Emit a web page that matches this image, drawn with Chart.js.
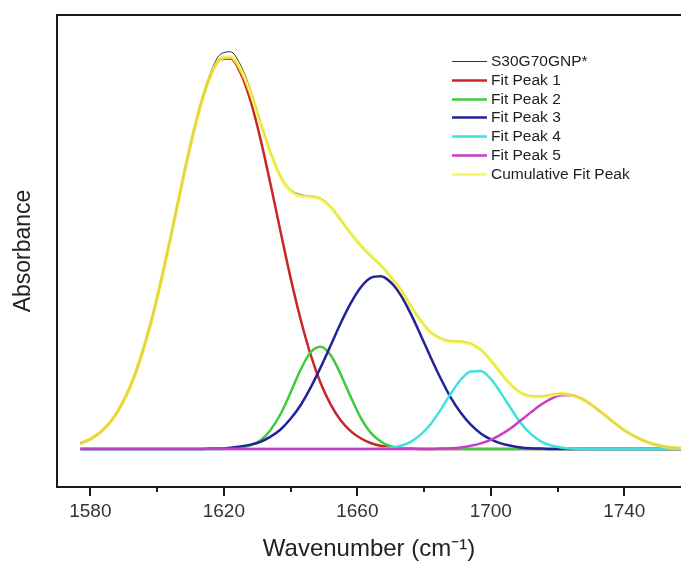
<!DOCTYPE html>
<html>
<head>
<meta charset="utf-8">
<title>Absorbance peak fit</title>
<script src="https://cdn.jsdelivr.net/npm/chart.js@4.4.1/dist/chart.umd.min.js"></script>
<style>
  html, body { margin: 0; padding: 0; background: #fff; }
  #wrap { width: 681px; height: 564px; }
</style>
</head>
<body>
<div id="wrap"><canvas id="fitChart" width="681" height="564"></canvas></div>
<script>
// wavenumber grid (cm-1) shared by every curve
const wavenumbers = [
  1577, 1580, 1583, 1586, 1589, 1592, 1595, 1598, 1601, 1604,
  1607, 1610, 1613, 1616, 1619, 1622, 1625, 1628, 1631, 1634,
  1637, 1640, 1643, 1646, 1649, 1652, 1655, 1658, 1661, 1664,
  1667, 1670, 1673, 1676, 1679, 1682, 1685, 1688, 1691, 1694,
  1697, 1700, 1703, 1706, 1709, 1712, 1715, 1718, 1721, 1724,
  1727, 1730, 1733, 1736, 1739, 1742, 1745, 1748, 1751, 1754,
  1757
];

// measured spectrum
const measured = [
  0.016, 0.026, 0.043, 0.069, 0.107, 0.160, 0.229, 0.315, 0.418, 0.532,
  0.651, 0.767, 0.868, 0.946, 0.992, 0.998, 0.965, 0.903, 0.822, 0.746,
  0.686, 0.652, 0.639, 0.636, 0.630, 0.609, 0.576, 0.541, 0.511, 0.484,
  0.461, 0.433, 0.401, 0.361, 0.323, 0.294, 0.279, 0.272, 0.271, 0.265,
  0.249, 0.222, 0.190, 0.161, 0.142, 0.134, 0.133, 0.137, 0.140, 0.137,
  0.128, 0.113, 0.093, 0.072, 0.053, 0.036, 0.023, 0.013, 0.007, 0.004,
  0.002
];

const peak1 = [
  0.014, 0.025, 0.042, 0.068, 0.106, 0.158, 0.227, 0.313, 0.416, 0.530,
  0.649, 0.764, 0.863, 0.938, 0.979, 0.981, 0.945, 0.875, 0.778, 0.665,
  0.546, 0.430, 0.326, 0.237, 0.166, 0.112, 0.072, 0.045, 0.027, 0.015,
  0.008, 0.004, 0.002, 0.001, 0, 0, 0, 0, 0, 0,
  0, 0, 0, 0, 0, 0, 0, 0, 0, 0,
  0, 0, 0, 0, 0, 0, 0, 0, 0, 0,
  0
];

const peak2 = [
  0, 0, 0, 0, 0, 0, 0, 0, 0, 0,
  0, 0, 0, 0, 0, 0.001, 0.003, 0.009, 0.022, 0.048,
  0.088, 0.142, 0.199, 0.243, 0.257, 0.236, 0.188, 0.131, 0.079, 0.041,
  0.019, 0.007, 0.003, 0.001, 0, 0, 0, 0, 0, 0,
  0, 0, 0, 0, 0, 0, 0, 0, 0, 0,
  0, 0, 0, 0, 0, 0, 0, 0, 0, 0,
  0
];

const peak3 = [
  0, 0, 0, 0, 0, 0, 0, 0, 0, 0,
  0, 0, 0, 0.001, 0.001, 0.003, 0.006, 0.011, 0.018, 0.031,
  0.049, 0.076, 0.110, 0.154, 0.205, 0.260, 0.316, 0.366, 0.406, 0.430,
  0.434, 0.419, 0.387, 0.340, 0.286, 0.230, 0.177, 0.129, 0.091, 0.061,
  0.039, 0.024, 0.014, 0.008, 0.004, 0.002, 0.001, 0, 0, 0,
  0, 0, 0, 0, 0, 0, 0, 0, 0, 0,
  0
];

const peak4 = [
  0, 0, 0, 0, 0, 0, 0, 0, 0, 0,
  0, 0, 0, 0, 0, 0, 0, 0, 0, 0,
  0, 0, 0, 0, 0, 0, 0, 0, 0, 0,
  0.001, 0.003, 0.008, 0.018, 0.036, 0.063, 0.099, 0.139, 0.174, 0.195,
  0.196, 0.176, 0.141, 0.102, 0.065, 0.038, 0.019, 0.009, 0.004, 0.001,
  0, 0, 0, 0, 0, 0, 0, 0, 0, 0,
  0
];

const peak5 = [
  0, 0, 0, 0, 0, 0, 0, 0, 0, 0,
  0, 0, 0, 0, 0, 0, 0, 0, 0, 0,
  0, 0, 0, 0, 0, 0, 0, 0, 0, 0,
  0, 0, 0, 0, 0, 0, 0.001, 0.002, 0.004, 0.008,
  0.014, 0.023, 0.036, 0.052, 0.072, 0.092, 0.111, 0.126, 0.135, 0.135,
  0.127, 0.112, 0.093, 0.073, 0.053, 0.037, 0.024, 0.014, 0.008, 0.004,
  0.002
];

// sum of the five fitted peaks
const cumulative = [
  0.014, 0.025, 0.042, 0.068, 0.106, 0.158, 0.227, 0.313, 0.416, 0.530,
  0.649, 0.764, 0.863, 0.939, 0.980, 0.985, 0.954, 0.895, 0.818, 0.744,
  0.683, 0.648, 0.635, 0.634, 0.628, 0.608, 0.576, 0.542, 0.512, 0.486,
  0.462, 0.433, 0.400, 0.360, 0.322, 0.293, 0.277, 0.270, 0.269, 0.264,
  0.249, 0.223, 0.191, 0.162, 0.141, 0.132, 0.131, 0.135, 0.139, 0.136,
  0.127, 0.112, 0.093, 0.073, 0.053, 0.037, 0.024, 0.014, 0.008, 0.004,
  0.002
];

const majorTicks = [1580, 1620, 1660, 1700, 1740];
const minorTicks = [1600, 1640, 1680, 1720];

const FONT = '"Liberation Sans", Arial, sans-serif';
const FRAME = '#1a1a1a';

Chart.defaults.font.family = FONT;

function toPoints(values) {
  return values.map((v, i) => ({ x: wavenumbers[i], y: v }));
}

function curve(label, values, color, width, order) {
  return {
    label: label,
    data: toPoints(values),
    borderColor: color,
    borderWidth: width,
    pointRadius: 0,
    fill: false,
    cubicInterpolationMode: 'monotone',
    order: order
  };
}

// top border of the frame plus long/short tick marks under the x axis
const frameTicks = {
  id: 'frameTicks',
  afterDraw(chart) {
    const { ctx, chartArea } = chart;
    const xs = chart.scales.x;
    ctx.save();
    ctx.strokeStyle = FRAME;
    ctx.lineWidth = 2;
    ctx.beginPath();
    ctx.moveTo(chartArea.left - 1, chartArea.top);
    ctx.lineTo(chartArea.right, chartArea.top);
    ctx.stroke();

    const tick = (v, len) => {
      const px = Math.round(xs.getPixelForValue(v));
      ctx.moveTo(px, chartArea.bottom);
      ctx.lineTo(px, chartArea.bottom + len);
    };
    ctx.beginPath();
    majorTicks.forEach(v => tick(v, 9));
    minorTicks.forEach(v => tick(v, 5));
    ctx.stroke();
    ctx.restore();
  }
};

// legend in the upper right corner of the plot
const cornerLegend = {
  id: 'cornerLegend',
  afterDraw(chart) {
    const ctx = chart.ctx;
    ctx.save();
    ctx.font = '15.5px ' + FONT;
    ctx.textBaseline = 'middle';
    ctx.fillStyle = '#1e1e1e';
    chart.data.datasets.forEach((ds, i) => {
      const y = Math.round(61 + i * 18.8) + 0.5;
      ctx.strokeStyle = i === 0 ? '#333340' : ds.borderColor;
      ctx.lineWidth = i === 0 ? 1 : 2.5;
      ctx.beginPath();
      ctx.moveTo(452, y);
      ctx.lineTo(487, y);
      ctx.stroke();
      ctx.fillText(ds.label, 491, y);
    });
    ctx.restore();
  }
};

const ctx = document.getElementById('fitChart').getContext('2d');
new Chart(ctx, {
  type: 'line',
  data: {
    datasets: [
      curve('S30G70GNP*', measured, '#2a2a3a', 1, 2),
      curve('Fit Peak 1', peak1, '#c8262b', 2.5, 7),
      curve('Fit Peak 2', peak2, '#3ccc3c', 2.5, 6),
      curve('Fit Peak 3', peak3, '#22229a', 2.5, 5),
      curve('Fit Peak 4', peak4, '#40e0e0', 2.5, 4),
      curve('Fit Peak 5', peak5, '#c83cc8', 2.5, 3),
      curve('Cumulative Fit Peak', cumulative, 'rgba(244, 244, 70, 0.85)', 3.5, 1)
    ]
  },
  options: {
    responsive: false,
    animation: false,
    devicePixelRatio: 1,
    layout: { padding: { top: 15, right: 0, bottom: 0, left: 0 } },
    plugins: {
      legend: { display: false },
      tooltip: { enabled: false }
    },
    scales: {
      x: {
        type: 'linear',
        min: 1570,
        max: 1757,
        afterBuildTicks: scale => {
          scale.ticks = majorTicks.map(v => ({ value: v }));
        },
        afterFit: scale => { scale.height = 77; },
        grid: { display: false, drawTicks: false },
        border: { display: true, color: FRAME, width: 2 },
        ticks: {
          padding: 13,
          color: '#333',
          maxRotation: 0,
          autoSkip: false,
          font: { size: 19 },
          callback: v => String(v)
        },
        title: {
          display: true,
          text: 'Wavenumber (cm⁻¹)',
          color: '#222',
          font: { size: 24 },
          padding: { top: 0, bottom: 0 }
        }
      },
      y: {
        min: -0.0955,
        max: 1.0905,
        afterFit: scale => { scale.width = 57; },
        grid: { display: false, drawTicks: false },
        border: { display: true, color: FRAME, width: 2 },
        ticks: { display: false },
        title: {
          display: true,
          text: 'Absorbance',
          color: '#222',
          font: { size: 23 },
          padding: { top: 10, bottom: 0 }
        }
      }
    }
  },
  plugins: [frameTicks, cornerLegend]
});
</script>
</body>
</html>
